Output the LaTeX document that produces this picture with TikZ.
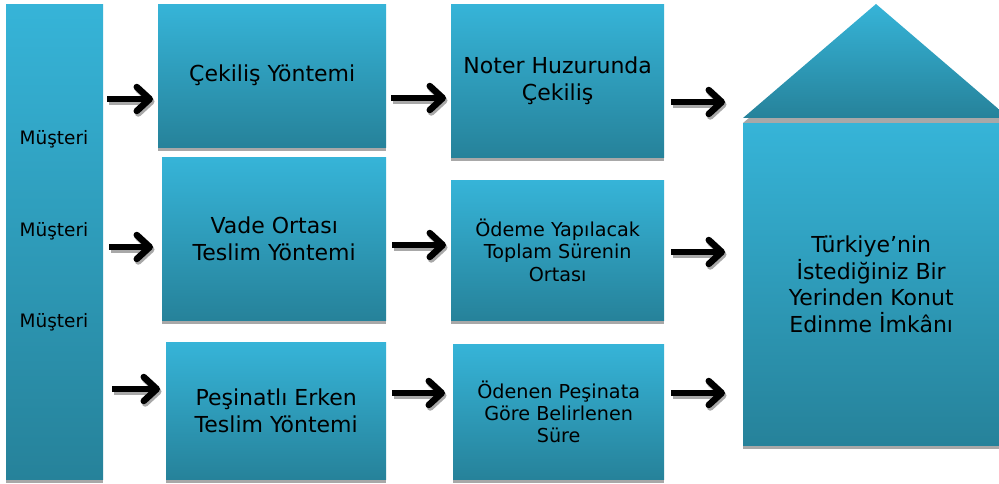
\documentclass[tikz,border=0pt]{standalone}
\usepackage{fontspec}
\setmainfont{DejaVu Sans}
\usetikzlibrary{shadows,arrows.meta}
\definecolor{btop}{HTML}{36B4D8}
\definecolor{bbot}{HTML}{26829A}
\definecolor{shd}{HTML}{A8A8A8}
\newcommand\myarrow[2]{%
  \draw[arr,draw=shd,transform canvas={shift={(1.5pt,-2.5pt)}}] (#1) -- (#2);
  \draw[arr] (#1) -- (#2);}
\begin{document}
\begin{tikzpicture}[x=1pt,y=-1pt,
  box/.style={anchor=north west, inner sep=0pt, top color=btop, bottom color=bbot,
    draw=none, align=center, text=black,
    general shadow={fill=shd, shadow xshift=0pt, shadow yshift=-4pt}},
  big/.style={font=\fontsize{22}{26.6}\selectfont},
  small/.style={font=\fontsize{19.2}{22.3}\selectfont},
  lbl/.style={font=\fontsize{18.5}{22}\selectfont, text=black, inner sep=0pt},
  arr/.style={line width=6.5pt, draw=black, -{Straight Barb[length=13pt,width=24pt,round]}}]
\useasboundingbox (0,0) rectangle (999,484);
\clip (0,0) rectangle (999,484);
\fill[white] (0,0) rectangle (999,484);
% left column
\node[box, minimum width=97pt, minimum height=475pt] (L) at (6,4) {};
\node[lbl] (m1) at (54,139) {Müşteri};
\node[lbl] (m2) at (54,231) {Müşteri};
\node[lbl] (m3) at (54,322) {Müşteri};
% row 1
\node[box, big, minimum width=228pt, minimum height=143pt] (c1) at (158,4) {Çekiliş Yöntemi};
\node[box, big, minimum width=213pt, minimum height=153pt] (c2) at (451,4) {Noter Huzurunda\\Çekiliş};
% row 2
\node[box, big, minimum width=224pt, minimum height=163pt] (v1) at (162,157) {Vade Ortası\\Teslim Yöntemi};
\node[box, small, minimum width=213pt, minimum height=140pt] (v2) at (451,180) {Ödeme Yapılacak\\Toplam Sürenin\\Ortası};
% row 3
\node[box, big, minimum width=220pt, minimum height=137pt] (p1) at (166,342) {Peşinatlı Erken\\Teslim Yöntemi};
\node[box, small, minimum width=211pt, minimum height=135pt] (p2) at (453,344) {Ödenen Peşinata\\Göre Belirlenen\\Süre};
% house
\fill[shd] (743,123) -- (876,9) -- (1009,123) -- cycle;
\shade[top color=btop, bottom color=bbot] (743,118) -- (876,4) -- (1009,118) -- cycle;
\node[box, big, minimum width=256pt, minimum height=322pt] (H) at (743,123) {Türkiye’nin\\İstediğiniz Bir\\Yerinden Konut\\Edinme İmkânı};
% arrow end points
\coordinate (a1s) at (107,99);  \coordinate (a1e) at (153,99);
\coordinate (a2s) at (391,98);  \coordinate (a2e) at (446,98);
\coordinate (a3s) at (671,102); \coordinate (a3e) at (725,102);
\coordinate (b1s) at (109,247); \coordinate (b1e) at (153,247);
\coordinate (b2s) at (392,245); \coordinate (b2e) at (446,245);
\coordinate (b3s) at (671,252); \coordinate (b3e) at (725,252);
\coordinate (d1s) at (112,389); \coordinate (d1e) at (160,389);
\coordinate (d2s) at (392,393); \coordinate (d2e) at (445,393);
\coordinate (d3s) at (671,393); \coordinate (d3e) at (725,393);
\myarrow{a1s}{a1e}\myarrow{a2s}{a2e}\myarrow{a3s}{a3e}
\myarrow{b1s}{b1e}\myarrow{b2s}{b2e}\myarrow{b3s}{b3e}
\myarrow{d1s}{d1e}\myarrow{d2s}{d2e}\myarrow{d3s}{d3e}
\end{tikzpicture}
\end{document}
